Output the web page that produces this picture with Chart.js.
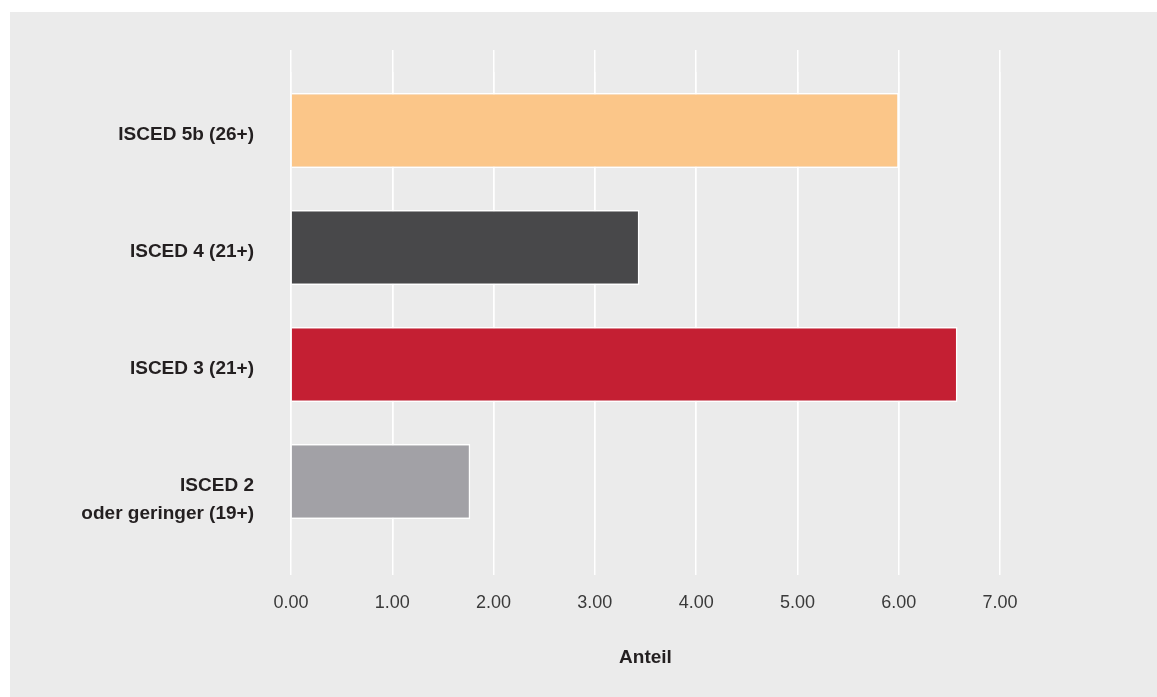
<!DOCTYPE html>
<html>
<head>
<meta charset="utf-8">
<script src="https://cdn.jsdelivr.net/npm/chart.js@4.4.1/dist/chart.umd.min.js"></script>
<style>
  html, body { margin: 0; padding: 0; background: #ffffff; }
  .panel { position: absolute; left: 10px; top: 12px; width: 1147px; height: 685px; background: #ebebeb; }
  .wrap { position: absolute; left: 0; top: 0; width: 1157px; height: 697px; }
  canvas { display: block; }
</style>
</head>
<body>
<div class="panel"></div>
<div class="wrap"><canvas id="chart" width="1157" height="697"></canvas></div>
<script>
var categories = [
    'ISCED 5b (26+)',
    'ISCED 4 (21+)',
    'ISCED 3 (21+)',
    ['', 'ISCED 2', 'oder geringer (19+)']
];
var values = [6.00, 3.44, 6.58, 1.77];
var bar_colors = ['#fbc689', '#48484a', '#c41f33', '#a2a1a6'];
var tick_values = [0, 1, 2, 3, 4, 5, 6, 7];
var axis_title = 'Anteil';

var font_name = '"Liberation Sans", Arial, sans-serif';

new Chart(document.getElementById('chart'), {
    type: 'bar',
    data: {
        labels: categories,
        datasets: [{
            data: values,
            backgroundColor: bar_colors,
            borderColor: '#ffffff',
            borderWidth: 1.5,
            barPercentage: 0.64,
            categoryPercentage: 1.0
        }]
    },
    options: {
        indexAxis: 'y',
        responsive: false,
        animation: false,
        devicePixelRatio: 1,
        layout: {
            padding: { top: 50, right: 157, bottom: 0, left: 0 }
        },
        plugins: {
            legend: { display: false },
            tooltip: { enabled: false }
        },
        scales: {
            x: {
                type: 'linear',
                position: 'bottom',
                min: 0,
                max: 7,
                afterBuildTicks: function (scale) {
                    scale.ticks = tick_values.map(function (v) { return { value: v }; });
                },
                afterFit: function (scale) { scale.height = 157; },
                grid: {
                    color: '#ffffff',
                    lineWidth: 1.5,
                    drawTicks: true,
                    tickLength: 35
                },
                border: { display: false },
                ticks: {
                    padding: 17,
                    color: '#3a3a3a',
                    font: { family: font_name, size: 18 },
                    callback: function (v) { return Number(v).toFixed(2); }
                },
                title: {
                    display: true,
                    text: axis_title,
                    color: '#231f20',
                    font: { family: font_name, size: 19, weight: 'bold' },
                    padding: { top: 0, bottom: 28 }
                }
            },
            x2: {
                type: 'linear',
                position: 'top',
                min: 0,
                max: 7,
                afterBuildTicks: function (scale) {
                    scale.ticks = tick_values.map(function (v) { return { value: v }; });
                },
                afterFit: function (scale) { scale.height = 22; },
                grid: {
                    color: '#ffffff',
                    lineWidth: 1.5,
                    drawTicks: true,
                    tickLength: 22
                },
                border: { display: false },
                ticks: { display: false }
            },
            y: {
                afterFit: function (scale) { scale.width = 291; },
                grid: { display: false },
                border: { display: false },
                ticks: {
                    padding: 29,
                    labelOffset: 4,
                    color: '#231f20',
                    font: { family: font_name, size: 19, weight: 'bold', lineHeight: 1.47 }
                }
            }
        }
    }
});
</script>
</body>
</html>
